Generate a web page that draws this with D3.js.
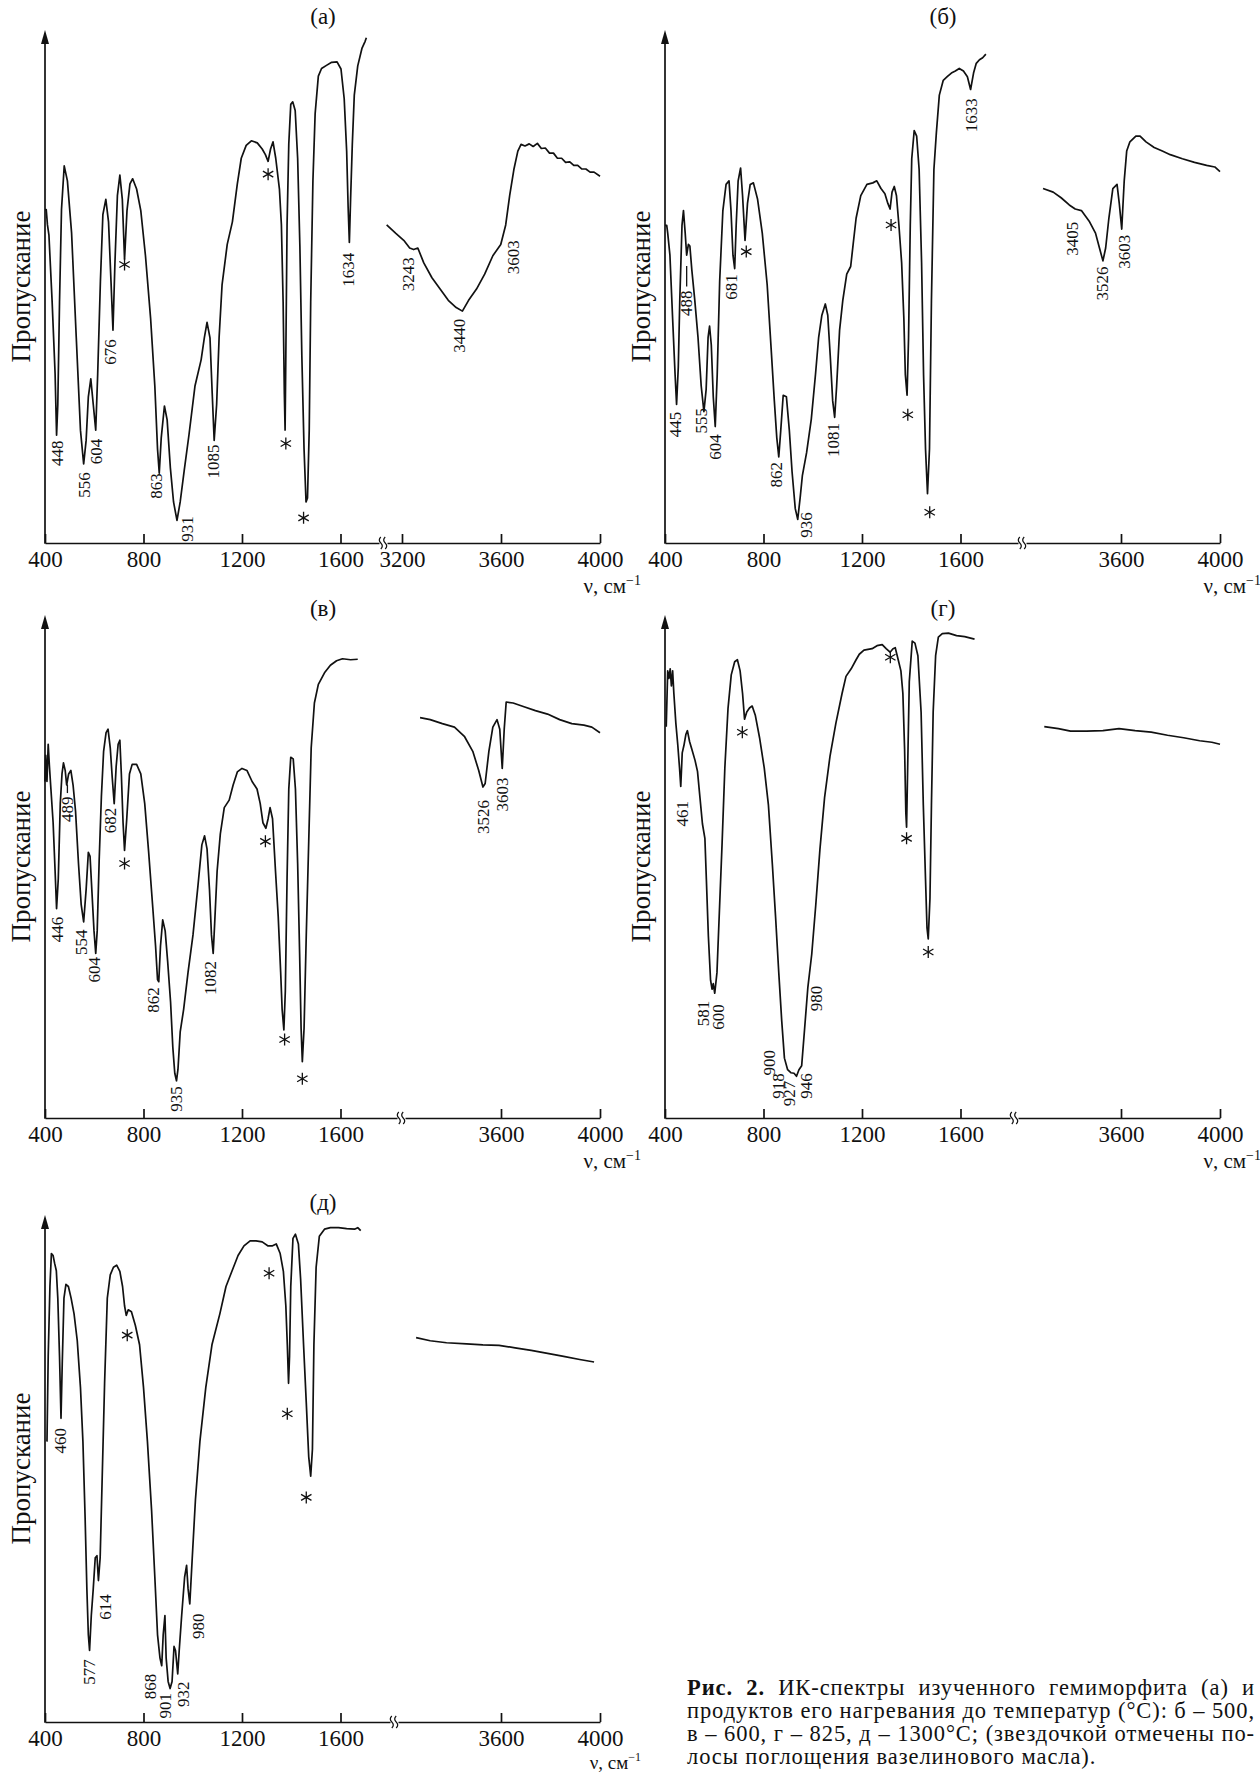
<!DOCTYPE html>
<html lang="ru">
<head>
<meta charset="utf-8" />
<title>ИК-спектры гемиморфита</title>
<script src="https://cdn.jsdelivr.net/npm/d3@7"></script>
<style>
  body { margin: 0; background: #fff; }
  svg { display: block; background: #fff; }
  text { font-family: "Liberation Serif", "Times New Roman", serif; fill: #111; }
  .curve { fill: none; stroke: #111; stroke-width: 1.7px; stroke-linejoin: round; }
  .yaxis { stroke: #111; stroke-width: 1.7px; }
  .arrow { fill: #111; }
  .star { stroke: #111; stroke-width: 1.3px; fill: none; }
  .leader { stroke: #111; stroke-width: 1.3px; }
  .brk { stroke: #111; stroke-width: 1.2px; fill: none; }
  .peak-label { font-size: 17px; }
  .title { font-size: 23px; }
  .ylabel { font-size: 27px; }
</style>
</head>
<body>
<svg id="chart" width="1260" height="1773"></svg>
<script>
// spectra: [wavenumber, transmission in % of axis height]
var specA_left = [[400,65],[405,65],[410,62],[416,60],[429,47],[441,33],[447,21],[452,27],[459,47],[467,65],[478,73.5],[491,70.6],[508,60.4],[527,40],[544,22],[557,15.4],[567,20],[576,28.5],[586,32],[596,27],[606,22],[614,33],[625,51],[635,64],[647,67],[658,62.6],[668,51],[676,41.5],[684,54.6],[694,67.7],[704,71.7],[714,67],[723,55.3],[733,64.8],[745,70],[756,71],[772,69],[789,64.8],[808,56],[829,43.7],[846,30.6],[857,18.3],[864,13.6],[872,20.5],[885,26.7],[896,24],[909,14.7],[922,8],[936,4.4],[949,8],[965,14],[985,21.2],[1009,30.6],[1034,35.7],[1047,40],[1058,43],[1070,40],[1079,29.2],[1087,20],[1097,27],[1107,40],[1119,50.3],[1140,58.2],[1161,62.6],[1181,70],[1197,75],[1217,77.5],[1238,78.4],[1262,78],[1282,76.8],[1295,75.7],[1306,74.4],[1316,76.8],[1326,78.2],[1337,75],[1352,69],[1360,62],[1367,47],[1372,29],[1375,22],[1378,36.5],[1383,62],[1390,77.8],[1398,85.5],[1406,86],[1416,84.3],[1426,75],[1435,58],[1443,36.5],[1452,18.3],[1460,8],[1466,8.8],[1473,22],[1479,47],[1488,70.6],[1497,83.7],[1510,91],[1523,92.5],[1543,93.1],[1564,93.7],[1586,93.8],[1602,92.4],[1615,86.6],[1625,76.4],[1631,65.5],[1636,58.6],[1641,67],[1648,77.8],[1656,87.3],[1670,93],[1687,96.4],[1700,97.8],[1705,98.5]];
var specA_right = [[3138,62],[3174,60.4],[3207,59],[3231,57.5],[3247,57.2],[3264,57.5],[3288,54.6],[3321,51.7],[3354,49.5],[3387,47.3],[3419,45.9],[3444,45.2],[3469,47.3],[3501,49.5],[3534,52.4],[3567,56],[3599,58.2],[3619,62],[3635,67.7],[3652,72.8],[3668,76.4],[3681,77.7],[3697,77.4],[3714,77.8],[3730,77.3],[3747,77.9],[3763,76.9],[3779,77],[3796,76],[3812,76],[3828,75],[3845,75],[3861,74.2],[3878,74.3],[3894,73.6],[3910,73.6],[3927,72.9],[3943,72.9],[3960,72.3],[3976,72.3],[4000,71.5]];
var labelsA = [["448",451,20],["556",560,13.8],["604",609,20.3],["676",666,39.7],["863",851,13.6],["931",978,5.2],["1085",1086,19.2],["1634",1631,56.6],["3243",3228,55.7],["3440",3432,43.7],["3603",3649,59]];
var starsA = [[723,54.3],[1306,71.9],[1378,19.4],[1450,4.9]];

var specB_left = [[400,61.9],[407,61.9],[411,60.4],[420,56.1],[431,43.7],[441,32.8],[447,27],[454,34.3],[460,47.3],[469,61.9],[475,64.8],[482,60.4],[488,56.1],[495,58.2],[501,57.9],[509,53.2],[521,47.3],[534,40.1],[547,30.6],[558,25.6],[567,29.9],[575,40.1],[581,42.3],[588,38.6],[596,28.5],[604,22.7],[612,32.8],[622,51],[635,64.8],[648,69.9],[660,70.6],[668,64.8],[676,56.1],[683,53.5],[689,61.9],[697,70.6],[707,73.1],[715,67.7],[725,59],[735,66.2],[746,69.9],[759,70.2],[776,67],[795,60.4],[815,50.3],[831,37.9],[844,27.7],[854,20.5],[862,16.8],[870,21.9],[880,28.8],[893,28.5],[905,21.9],[916,13.9],[929,6.7],[939,4.6],[949,8.9],[958,13.2],[975,17.6],[994,24.1],[1011,32.8],[1024,40.1],[1037,44.4],[1051,46.6],[1061,44.4],[1071,36.5],[1081,27.7],[1089,24.5],[1097,30.6],[1109,41.5],[1122,47.3],[1138,52.4],[1154,53.9],[1164,58.2],[1176,63.3],[1195,67.7],[1220,69.9],[1244,70.2],[1260,70.6],[1277,69.1],[1293,68.1],[1305,66.2],[1314,65.1],[1322,68.4],[1331,69.5],[1340,67.7],[1350,61.9],[1361,54.6],[1370,43.7],[1376,32.8],[1383,28.8],[1389,39.9],[1396,61.9],[1402,74.9],[1412,80.4],[1422,79.3],[1432,72.8],[1442,54.6],[1450,32.8],[1458,18.3],[1466,9.6],[1474,18.3],[1482,47.3],[1492,72.8],[1502,80],[1514,87.3],[1530,90.2],[1546,90.9],[1563,91.6],[1579,92],[1595,92.5],[1612,92],[1628,90.9],[1641,88.4],[1653,91.6],[1664,93.5],[1677,94.2],[1690,94.6],[1703,95.3]];
var specB_right = [[3285,69.1],[3326,68.4],[3358,67.3],[3391,65.9],[3415,65.1],[3440,64.8],[3473,62.6],[3497,60.4],[3513,57.5],[3527,55],[3538,57.5],[3551,63.3],[3567,69.1],[3584,69.9],[3593,66.2],[3603,61.2],[3613,70.6],[3623,76.4],[3636,78.2],[3660,79.3],[3677,79.3],[3701,78.2],[3734,77.1],[3767,76.4],[3799,75.7],[3848,74.9],[3897,74.2],[3946,73.6],[3979,73.3],[4000,72.4]];
var labelsB = [["445",444,25.6],["488",488,49.2],["555",547,26.3],["604",606,21.2],["681",669,52.4],["862",852,15.8],["936",975,6],["1081",1084,23.4],["1633",1646,86.7],["3405",3403,62.6],["3526",3527,53.9],["3603",3615,60.1]];
var starsB = [[730,56.8],[1318,62],[1386,25],[1475,6]];
var leadersB = [[488,50,54]];

var specC_left = [[400,66.9],[403,72.1],[408,66.9],[413,74.3],[418,69.9],[424,65.4],[433,58.7],[441,49.1],[447,41.6],[454,47.6],[462,62.5],[469,68.4],[475,70.6],[482,69.1],[488,66.2],[496,68.4],[505,69.1],[514,66.2],[524,61],[536,50.6],[547,42.4],[557,39],[567,45.4],[576,52.8],[583,52],[591,44.6],[599,37.2],[606,32.7],[612,37.2],[620,51.3],[629,63.9],[638,72.9],[648,76.6],[656,77.3],[665,73.6],[673,67.7],[681,62.5],[689,69.9],[697,74.3],[704,75.1],[710,68.4],[717,58.7],[723,53.2],[732,59.5],[743,68.4],[754,70.3],[772,70.3],[789,68.4],[805,62.5],[821,52.8],[838,41.6],[849,34.2],[857,27.5],[862,27.1],[869,34.2],[878,39.4],[888,37.2],[898,31.2],[910,23],[919,14.1],[927,8.9],[934,7.4],[940,9.7],[949,17.1],[963,21.6],[981,29],[1001,36.4],[1021,46.1],[1037,54.3],[1048,56.1],[1058,53.5],[1068,45.4],[1076,36.4],[1083,32.7],[1089,38.7],[1099,49.1],[1112,56.5],[1128,61.7],[1148,63.2],[1164,66.2],[1181,68.8],[1200,69.5],[1220,69.1],[1241,66.9],[1261,65.4],[1274,62.5],[1285,58.7],[1297,57.6],[1306,59.5],[1314,61.7],[1324,59.5],[1336,49.1],[1347,40.1],[1357,29],[1363,21.6],[1370,17.5],[1376,25.3],[1383,47.6],[1390,65.4],[1398,71.7],[1408,71.4],[1417,65.4],[1426,50.6],[1434,32.7],[1440,17.8],[1445,11.2],[1452,17.8],[1461,36.4],[1471,55],[1481,73.6],[1494,82.5],[1510,86.2],[1535,88.5],[1559,90],[1584,90.9],[1608,91.3],[1641,91.1],[1670,91.2]];
var specC_right = [[3273,79.6],[3314,79.2],[3363,78.4],[3412,77.7],[3453,75.8],[3486,72.9],[3510,69.1],[3527,65.8],[3536,66.5],[3551,72.9],[3567,77.7],[3584,79.2],[3595,77.3],[3605,69.5],[3613,77.3],[3621,82.7],[3649,82.5],[3690,81.8],[3739,81],[3788,80.3],[3837,79.2],[3886,78.4],[3935,78.1],[3967,77.7],[4000,76.6]];
var labelsC = [["446",449,40],["489",491,63.9],["554",547,37.5],["604",602,32],["682",665,61.7],["862",841,26],["935",934,6.3],["1082",1074,31.2],["3526",3530,63.2],["3603",3608,67.7]];
var starsC = [[723,50.6],[1295,55],[1373,15.6],[1445,7.8]];
var leadersC = [[491,64.6,66.3]];

var specD_left = [[405,77.8],[411,88.9],[416,87.4],[421,89.3],[426,85.9],[431,88.9],[436,84.4],[444,78.5],[452,74.1],[459,69.6],[464,65.9],[470,72.6],[477,74.1],[485,76.3],[491,77],[500,74.8],[509,73.3],[522,71.1],[532,68.9],[542,63.7],[552,58.5],[562,55.6],[568,47.4],[576,36.3],[585,27.4],[591,25.6],[596,26.7],[602,24.8],[611,28.9],[620,40],[632,54.8],[643,69.6],[656,81.5],[669,88.1],[683,90.7],[694,91.1],[705,88.9],[715,84.4],[723,79.3],[732,80.7],[743,81.5],[754,81.9],[767,80],[784,75.6],[803,69.6],[820,62.2],[836,50.4],[849,40],[862,28.9],[874,19.3],[885,11.9],[898,9.6],[911,9],[924,8.9],[934,8.3],[944,9.6],[955,10.4],[967,17.8],[980,25.9],[996,32.6],[1012,42.2],[1029,53.3],[1048,63.7],[1070,71.9],[1094,78.5],[1119,84.4],[1135,87.8],[1156,89.3],[1176,91.1],[1189,92.2],[1208,93],[1241,93.3],[1261,93.9],[1282,94.1],[1298,93.3],[1314,92.6],[1326,93.3],[1335,93.5],[1347,91.1],[1358,88.9],[1366,84.4],[1373,73.3],[1378,60.7],[1381,57.8],[1386,71.1],[1392,86.7],[1404,94.8],[1415,94.4],[1427,91.9],[1440,80.7],[1449,62.2],[1458,47.4],[1464,37.8],[1469,35.6],[1476,43.7],[1482,62.2],[1489,80.7],[1499,91.9],[1510,95.6],[1526,96.3],[1551,96.4],[1584,95.9],[1617,95.7],[1657,95.2]];
var specD_right = [[3290,77.8],[3347,77.4],[3396,76.9],[3461,76.9],[3527,77],[3592,77.4],[3657,77],[3722,76.7],[3788,76.1],[3853,75.6],[3918,75],[3967,74.7],[4000,74.3]];
var labelsD = [["461",473,63],["581",555,23.3],["600",617,22.6],["900",825,13.5],["918",862,8.9],["927",906,7.4],["946",973,8.9],["980",1017,26.3]];
var starsD = [[714,76.7],[1315,91.6],[1381,55.6],[1469,33]];

var specE_left = [[408,55.3],[413,72.1],[420,85.9],[426,92.4],[433,92],[439,90.5],[446,89],[452,83.6],[459,72.1],[465,59.9],[470,70.6],[477,83.6],[485,86.3],[495,85.9],[506,83.6],[518,80.5],[531,75.2],[544,66],[554,55.3],[563,40.1],[570,26.3],[576,17.2],[581,14.1],[588,21],[596,26.3],[604,32.4],[611,32.8],[617,27.9],[624,32.4],[632,47.7],[642,66.8],[653,83.6],[665,88.2],[678,89.7],[691,90.1],[704,88.9],[715,85.9],[723,82.1],[730,80.2],[738,81.3],[751,80.9],[767,78.2],[784,74.4],[800,66],[816,55.3],[833,41.6],[846,28.6],[857,17.2],[867,12.6],[874,11.1],[880,17.2],[887,21],[892,12.6],[900,8],[908,6.6],[916,8],[924,14.9],[930,14.1],[939,9.5],[945,14.1],[955,21],[967,28.6],[975,30.9],[981,26.3],[988,23.3],[998,32.4],[1011,43.9],[1029,55.3],[1053,66],[1078,74.4],[1110,80.5],[1135,85.9],[1159,88.9],[1184,92],[1208,93.9],[1233,94.9],[1257,94.9],[1282,94.7],[1306,93.9],[1322,93.9],[1339,94.3],[1355,92.4],[1368,88.9],[1378,82.1],[1384,74.4],[1389,66.8],[1393,72.1],[1398,85.9],[1407,95.4],[1417,96.2],[1429,94.3],[1438,87.4],[1450,74.4],[1461,63],[1471,52.3],[1479,48.5],[1486,53.8],[1492,74.4],[1501,89.7],[1514,95.8],[1535,97.2],[1559,97.5],[1592,97.5],[1625,97.3],[1657,97.2],[1670,97.5],[1682,96.9]];
var specE_right = [[3257,75.8],[3314,75.2],[3380,74.8],[3461,74.6],[3527,74.4],[3592,74.3],[3657,73.8],[3722,73.3],[3788,72.7],[3853,72.1],[3918,71.5],[3976,71]];
var labelsE = [["460",462,58],["577",580,12.4],["614",645,25.2],["868",828,9.5],["901",890,5.7],["932",963,8],["980",1024,21.4]];
var starsE = [[734,76.3],[1310,88.5],[1384,60.8],[1461,44.3]];

var leftTicks = [400, 800, 1200, 1600];
var rightTicksA = [3200, 3600, 4000];
var rightTicks = [3600, 4000];

var captionLines = [
  "ИК-спектры изученного гемиморфита (а) и",
  "продуктов его нагревания до температур (°С): б – 500,",
  "в – 600, г – 825, д – 1300°С; (звездочкой отмечены по-",
  "лосы поглощения вазелинового масла)."
];

var panels = [
  {name: "(а)", x0: 45, y0: 543, top: 30, titleY: 16, nuY: 593, nuSize: 21, brk: 334, rTicks: rightTicksA, left: specA_left, right: specA_right, labels: labelsA, stars: starsA, leaders: []},
  {name: "(б)", x0: 665, y0: 543, top: 30, titleY: 16, nuY: 593, nuSize: 21, brk: 353, rTicks: rightTicks, left: specB_left, right: specB_right, labels: labelsB, stars: starsB, leaders: leadersB},
  {name: "(в)", x0: 45, y0: 1118, top: 615, titleY: 608, nuY: 1168, nuSize: 21, brk: 352, rTicks: rightTicks, left: specC_left, right: specC_right, labels: labelsC, stars: starsC, leaders: leadersC},
  {name: "(г)", x0: 665, y0: 1118, top: 615, titleY: 608, nuY: 1168, nuSize: 21, brk: 345, rTicks: rightTicks, left: specD_left, right: specD_right, labels: labelsD, stars: starsD, leaders: []},
  {name: "(д)", x0: 45, y0: 1722, top: 1215, titleY: 1202, nuY: 1768.5, nuSize: 19, brk: 345, rTicks: rightTicks, left: specE_left, right: specE_right, labels: labelsE, stars: starsE, leaders: []}
];

var svg = d3.select("#chart");

panels.forEach(function(p) {
  var g = svg.append("g");

  var xl = d3.scaleLinear().domain([400, 1600]).range([p.x0, p.x0 + 295.5]);
  var xr = d3.scaleLinear().domain([3600, 4000]).range([p.x0 + 456, p.x0 + 555]);
  var y = d3.scaleLinear().domain([0, 100]).range([p.y0, p.top]);

  var xpos = function(v) { return v > 2500 ? xr(v) : xl(v); };

  // x axis in two pieces with a break
  var xlAxisScale = xl.copy().domain([400, xl.invert(p.x0 + p.brk)]).range([p.x0, p.x0 + p.brk]);
  var xrAxisScale = xr.copy().domain([xr.invert(p.x0 + p.brk + 8), 4000]).range([p.x0 + p.brk + 8, p.x0 + 555]);

  [[xlAxisScale, leftTicks], [xrAxisScale, p.rTicks]].forEach(function(a) {
    var ax = g.append("g")
      .attr("transform", "translate(0," + p.y0 + ")")
      .call(d3.axisBottom(a[0]).tickValues(a[1]).tickSizeInner(-9).tickSizeOuter(0).tickPadding(8).tickFormat(d3.format("d")));
    ax.attr("font-family", null).attr("font-size", null);
    ax.selectAll("path, line").attr("stroke", "#111").attr("stroke-width", 1.7);
    ax.selectAll("text").attr("fill", "#111").style("font-size", "23px");
  });

  // break mark
  var bx = p.x0 + p.brk + 4;
  [-2.2, 2.2].forEach(function(dx) {
    var cx = bx + dx;
    g.append("path").attr("class", "brk")
      .attr("d", "M" + cx + "," + (p.y0 + 6) + " Q" + (cx + 3) + "," + (p.y0 + 3) + " " + cx + "," + p.y0 +
        " Q" + (cx - 3) + "," + (p.y0 - 3) + " " + cx + "," + (p.y0 - 6));
  });

  // y axis with arrow
  g.append("line").attr("class", "yaxis")
    .attr("x1", p.x0).attr("x2", p.x0).attr("y1", p.y0 + 0.8).attr("y2", p.top + 8);
  g.append("path").attr("class", "arrow")
    .attr("d", "M" + p.x0 + "," + p.top + " L" + (p.x0 - 4) + "," + (p.top + 14) + " L" + (p.x0 + 4) + "," + (p.top + 14) + "Z");

  g.append("text").attr("class", "ylabel")
    .attr("transform", "translate(" + (p.x0 - 24) + "," + ((p.y0 + p.top) / 2) + ") rotate(-90)")
    .attr("text-anchor", "middle").attr("dominant-baseline", "central")
    .text("Пропускание");

  g.append("text").attr("class", "title")
    .attr("x", p.x0 + 278).attr("y", p.titleY)
    .attr("text-anchor", "middle").attr("dominant-baseline", "central")
    .text(p.name);

  var nu = g.append("text")
    .attr("x", p.x0 + 596).attr("y", p.nuY).attr("text-anchor", "end")
    .style("font-size", p.nuSize + "px");
  nu.append("tspan").text("ν, см");
  nu.append("tspan").attr("dy", -8).style("font-size", (p.nuSize - 7) + "px").text("−1");

  // spectra
  var line = d3.line()
    .x(function(d) { return xpos(d[0]); })
    .y(function(d) { return y(d[1]); });

  g.append("path").datum(p.left).attr("class", "curve").attr("d", line);
  g.append("path").datum(p.right).attr("class", "curve").attr("d", line);

  // peak labels
  g.selectAll(".peak-label")
    .data(p.labels)
    .enter()
    .append("text")
    .attr("class", "peak-label")
    .attr("transform", function(d) { return "translate(" + xpos(d[1]) + "," + y(d[2]) + ") rotate(-90)"; })
    .attr("text-anchor", "end")
    .attr("dominant-baseline", "central")
    .text(function(d) { return d[0]; });

  g.selectAll(".leader")
    .data(p.leaders)
    .enter()
    .append("line")
    .attr("class", "leader")
    .attr("x1", function(d) { return xpos(d[0]); })
    .attr("x2", function(d) { return xpos(d[0]); })
    .attr("y1", function(d) { return y(d[1]); })
    .attr("y2", function(d) { return y(d[2]); });

  // asterisks marking vaseline oil bands
  g.selectAll(".star")
    .data(p.stars)
    .enter()
    .append("path")
    .attr("class", "star")
    .attr("d", function(d) {
      var cx = xpos(d[0]), cy = y(d[1]), r = 6;
      var s = "";
      [90, 30, -30].forEach(function(a) {
        var dx = r * Math.cos(a * Math.PI / 180), dy = r * Math.sin(a * Math.PI / 180);
        s += "M" + (cx - dx) + "," + (cy - dy) + "L" + (cx + dx) + "," + (cy + dy);
      });
      return s;
    });
});

// caption: letter spacing set so the tight second line fills the width,
// the other full lines are justified with word spacing
var cap = svg.append("g");
var capX = 687, capW = 568, capY = 1695, capStep = 23, capFont = 22.5;

var probe = cap.append("text").style("font-size", capFont + "px").text(captionLines[1]);
var letterGap = Math.max(0, (capW - probe.node().getComputedTextLength()) / captionLines[1].length);
letterGap = Math.min(letterGap, 1.2);
probe.remove();

captionLines.forEach(function(t, i) {
  var txt = cap.append("text")
    .attr("x", capX).attr("y", capY + i * capStep)
    .style("font-size", capFont + "px")
    .style("letter-spacing", letterGap + "px");
  var full = t;
  if (i === 0) {
    txt.append("tspan").style("font-weight", "bold").text("Рис. 2.");
    txt.append("tspan").text(" " + t);
    full = "Рис. 2. " + t;
  } else {
    txt.text(t);
  }
  if (i < captionLines.length - 1) {
    var w = txt.node().getComputedTextLength();
    var gaps = full.split(" ").length - 1;
    var extra = (capW - w) / gaps;
    if (extra > 0) txt.style("word-spacing", extra + "px");
  }
});
</script>
</body>
</html>
